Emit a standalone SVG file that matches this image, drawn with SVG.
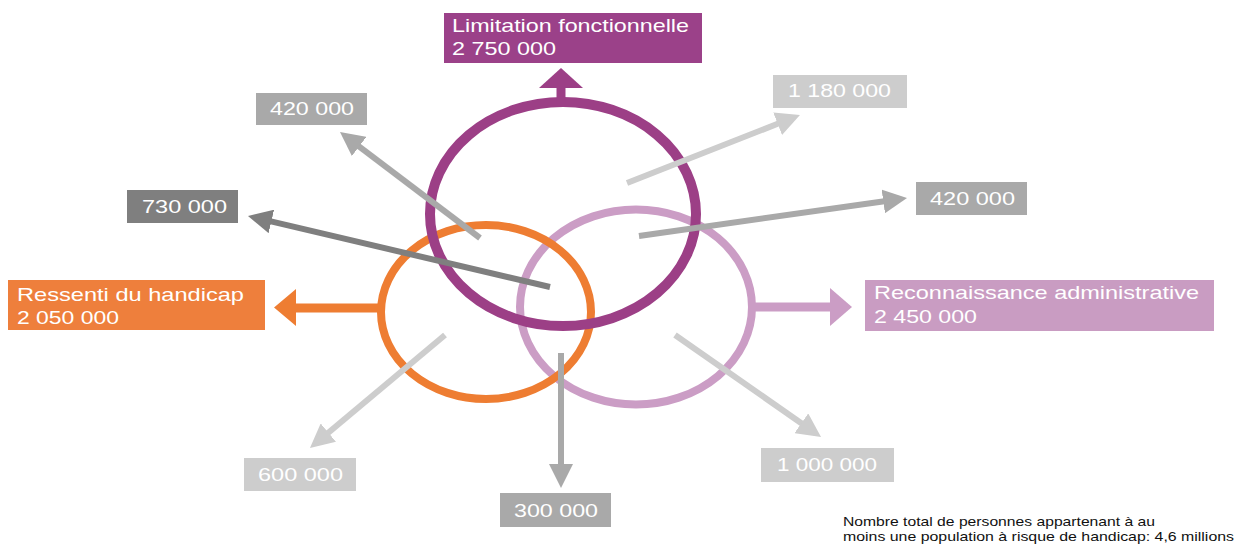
<svg xmlns="http://www.w3.org/2000/svg" width="1235" height="548" viewBox="0 0 1235 548">
  <style>
    text { font-family: "Liberation Sans", Arial, sans-serif; }
    .lbl { fill: #ffffff; font-size: 19px; }
    .num { fill: #ffffff; font-size: 19px; }
    .note { fill: #111111; font-size: 13.5px; }
    .ring { fill: none; }
    .g-dark { fill: #7f7f7f; }
    .g-mid { fill: #a9a9a9; }
    .g-light { fill: #cdcdcd; }
    .c-dark { stroke: #7f7f7f; stroke-width: 6; fill: none; }
    .c-mid { stroke: #a9a9a9; stroke-width: 6; fill: none; }
    .c-light { stroke: #cdcdcd; stroke-width: 6; fill: none; }
  </style>
  <defs>
    <marker id="h-dark" viewBox="0 0 10 10" refX="2" refY="5" markerWidth="4" markerHeight="4" orient="auto" markerUnits="strokeWidth">
      <path d="M0,0 L10,5 L0,10 z" fill="#7f7f7f"/>
    </marker>
    <marker id="h-mid" viewBox="0 0 10 10" refX="2" refY="5" markerWidth="4" markerHeight="4" orient="auto" markerUnits="strokeWidth">
      <path d="M0,0 L10,5 L0,10 z" fill="#a9a9a9"/>
    </marker>
    <marker id="h-light" viewBox="0 0 10 10" refX="2" refY="5" markerWidth="4" markerHeight="4" orient="auto" markerUnits="strokeWidth">
      <path d="M0,0 L10,5 L0,10 z" fill="#cdcdcd"/>
    </marker>
  </defs>

  <rect width="1235" height="548" fill="#ffffff"/>

  <!-- Reconnaissance administrative -->
  <g id="reconnaissance">
    <ellipse class="ring" cx="636" cy="307" rx="116" ry="97.5" stroke="#cb9dc5" stroke-width="8"/>
    <rect x="865" y="280" width="349" height="51" fill="#c99cc2"/>
    <text class="lbl" x="874" y="299" textLength="325" lengthAdjust="spacingAndGlyphs">Reconnaissance administrative</text>
    <text class="lbl" x="874" y="323" textLength="103" lengthAdjust="spacingAndGlyphs">2 450 000</text>
  </g>

  <!-- Ressenti du handicap -->
  <g id="ressenti">
    <ellipse class="ring" cx="486" cy="312" rx="105" ry="87" stroke="#ee7d32" stroke-width="8"/>
    <rect x="8" y="280" width="257" height="50" fill="#ee7f3c"/>
    <text class="lbl" x="17" y="301" textLength="227" lengthAdjust="spacingAndGlyphs">Ressenti du handicap</text>
    <text class="lbl" x="17" y="324" textLength="102" lengthAdjust="spacingAndGlyphs">2 050 000</text>
  </g>

  <!-- Limitation fonctionnelle -->
  <g id="limitation">
    <ellipse class="ring" cx="563" cy="214" rx="133" ry="112" stroke="#9c3f86" stroke-width="10"/>
    <rect x="444" y="13" width="258" height="50" fill="#9b4189"/>
    <text class="lbl" x="452" y="32" textLength="237" lengthAdjust="spacingAndGlyphs">Limitation fonctionnelle</text>
    <text class="lbl" x="452" y="55" textLength="104" lengthAdjust="spacingAndGlyphs">2 750 000</text>
  </g>

  <!-- Value boxes -->
  <g id="v420tl">
    <rect class="g-mid" x="256" y="93" width="111" height="32"/>
    <text class="num" x="270" y="115" textLength="84" lengthAdjust="spacingAndGlyphs">420 000</text>
  </g>
  <g id="v730">
    <rect class="g-dark" x="127" y="190" width="111" height="33"/>
    <text class="num" x="142" y="213" textLength="85" lengthAdjust="spacingAndGlyphs">730 000</text>
  </g>
  <g id="v1180">
    <rect class="g-light" x="773" y="75" width="134" height="33"/>
    <text class="num" x="788" y="97" textLength="103" lengthAdjust="spacingAndGlyphs">1 180 000</text>
  </g>
  <g id="v420r">
    <rect class="g-mid" x="916" y="182" width="111" height="33"/>
    <text class="num" x="930" y="205" textLength="85" lengthAdjust="spacingAndGlyphs">420 000</text>
  </g>
  <g id="v600">
    <rect class="g-light" x="244" y="458" width="112" height="33"/>
    <text class="num" x="258" y="481" textLength="85" lengthAdjust="spacingAndGlyphs">600 000</text>
  </g>
  <g id="v300">
    <rect class="g-mid" x="500" y="493" width="111" height="34"/>
    <text class="num" x="514" y="517" textLength="84" lengthAdjust="spacingAndGlyphs">300 000</text>
  </g>
  <g id="v1000">
    <rect class="g-light" x="761" y="448" width="133" height="34"/>
    <text class="num" x="777" y="471" textLength="100" lengthAdjust="spacingAndGlyphs">1 000 000</text>
  </g>

  <!-- Connectors -->
  <g id="connectors">
    <!-- category arrows -->
    <line x1="561" y1="104" x2="561" y2="86" stroke="#9c3f86" stroke-width="9"/>
    <polygon points="539,88 561,68 583,88" fill="#9c3f86"/>
    <line x1="381" y1="308" x2="293" y2="308" stroke="#ee7d32" stroke-width="9"/>
    <polygon points="296,289 274,307.5 296,326" fill="#ee7d32"/>
    <line x1="752" y1="307" x2="832" y2="307" stroke="#cb9dc5" stroke-width="9"/>
    <polygon points="830,288 852,307 830,326" fill="#cb9dc5"/>
    <!-- value arrows -->
    <line class="c-mid" x1="480" y1="238" x2="355.3" y2="143.6" marker-end="url(#h-mid)"/>
    <line class="c-dark" x1="550" y1="287" x2="266.7" y2="220.4" marker-end="url(#h-dark)"/>
    <line class="c-light" x1="627" y1="183" x2="782.1" y2="122" marker-end="url(#h-light)"/>
    <line class="c-mid" x1="639" y1="236" x2="888" y2="200.7" marker-end="url(#h-mid)"/>
    <line class="c-light" x1="445" y1="335" x2="324.7" y2="435.7" marker-end="url(#h-light)"/>
    <line class="c-mid" x1="561" y1="353" x2="561" y2="468.8" marker-end="url(#h-mid)"/>
    <line class="c-light" x1="675" y1="335" x2="805.3" y2="426" marker-end="url(#h-light)"/>
  </g>

  <!-- Footnote -->
  <g id="footnote">
    <text class="note" x="843" y="526" textLength="312" lengthAdjust="spacingAndGlyphs">Nombre total de personnes appartenant à au</text>
    <text class="note" x="843" y="541" textLength="391" lengthAdjust="spacingAndGlyphs">moins une population à risque de handicap: 4,6 millions</text>
  </g>
</svg>
